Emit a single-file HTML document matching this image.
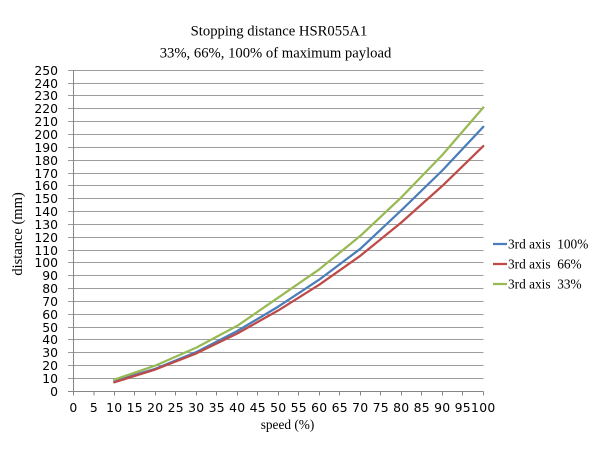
<!DOCTYPE html>
<html>
<head>
<meta charset="utf-8">
<style>
html,body{margin:0;padding:0;background:#fff;}
svg{display:block;}
.yl{font-family:"DejaVu Sans",sans-serif;font-size:12.4px;fill:#000;text-anchor:end;}
.xl{font-family:"DejaVu Sans",sans-serif;font-size:12.4px;fill:#000;text-anchor:middle;letter-spacing:0.3px;}
.serif{font-family:"Liberation Serif",serif;fill:#000;}
</style>
</head>
<body>
<svg width="600" height="449" viewBox="0 0 600 449" xmlns="http://www.w3.org/2000/svg">
<rect width="600" height="449" fill="#fff"/>
<!-- titles -->
<text class="serif" x="279" y="35.5" font-size="14.67" text-anchor="middle">Stopping distance HSR055A1</text>
<text class="serif" x="275.5" y="57.5" font-size="14.67" text-anchor="middle">33%, 66%, 100% of maximum payload</text>

<!-- gridlines -->
<g stroke="#9c9c9c" stroke-width="1" fill="none">
<path d="M68 378.5H483.5M68 365.5H483.5M68 352.5H483.5M68 339.5H483.5M68 327.5H483.5M68 314.5H483.5M68 301.5H483.5M68 288.5H483.5M68 275.5H483.5M68 262.5H483.5M68 250.5H483.5M68 237.5H483.5M68 224.5H483.5M68 211.5H483.5M68 198.5H483.5M68 185.5H483.5M68 173.5H483.5M68 160.5H483.5M68 147.5H483.5M68 134.5H483.5M68 121.5H483.5M68 108.5H483.5M68 95.5H483.5M68 83.5H483.5M68 70.5H483.5"/>
</g>
<!-- axes -->
<g stroke="#868686" stroke-width="1" fill="none">
<path d="M73.5 70V391.5M68 391.5H483.5"/>
<path d="M73.5 391.5V395.5M94 391.5V395.5M114.5 391.5V395.5M134.5 391.5V395.5M155.5 391.5V395.5M175.5 391.5V395.5M196.5 391.5V395.5M216.5 391.5V395.5M237.5 391.5V395.5M257.5 391.5V395.5M278.5 391.5V395.5M298.5 391.5V395.5M319.5 391.5V395.5M339.5 391.5V395.5M360.5 391.5V395.5M380.5 391.5V395.5M401.5 391.5V395.5M421.5 391.5V395.5M442.5 391.5V395.5M462.5 391.5V395.5M483.5 391.5V395.5"/>
</g>

<!-- y labels -->
<g class="yl">
<text x="58" y="396">0</text>
<text x="58" y="383">10</text>
<text x="58" y="370">20</text>
<text x="58" y="357">30</text>
<text x="58" y="344">40</text>
<text x="58" y="332">50</text>
<text x="58" y="319">60</text>
<text x="58" y="306">70</text>
<text x="58" y="293">80</text>
<text x="58" y="280">90</text>
<text x="58" y="267">100</text>
<text x="58" y="255">110</text>
<text x="58" y="242">120</text>
<text x="58" y="229">130</text>
<text x="58" y="216">140</text>
<text x="58" y="203">150</text>
<text x="58" y="190">160</text>
<text x="58" y="178">170</text>
<text x="58" y="165">180</text>
<text x="58" y="152">190</text>
<text x="58" y="139">200</text>
<text x="58" y="126">210</text>
<text x="58" y="113">220</text>
<text x="58" y="100">230</text>
<text x="58" y="88">240</text>
<text x="58" y="75">250</text>
</g>

<!-- x labels -->
<g class="xl">
<text x="73.5" y="412">0</text>
<text x="94" y="412">5</text>
<text x="114.3" y="412">10</text>
<text x="134.8" y="412">15</text>
<text x="155.3" y="412">20</text>
<text x="175.8" y="412">25</text>
<text x="196.3" y="412">30</text>
<text x="216.8" y="412">35</text>
<text x="237.3" y="412">40</text>
<text x="257.8" y="412">45</text>
<text x="278.3" y="412">50</text>
<text x="298.8" y="412">55</text>
<text x="319.3" y="412">60</text>
<text x="339.8" y="412">65</text>
<text x="360.3" y="412">70</text>
<text x="380.8" y="412">75</text>
<text x="401.3" y="412">80</text>
<text x="421.8" y="412">85</text>
<text x="442.3" y="412">90</text>
<text x="462.8" y="412">95</text>
<text x="483.3" y="412">100</text>
</g>

<!-- axis titles -->
<text class="serif" x="287.5" y="429" font-size="13.3" text-anchor="middle">speed (%)</text>
<text class="serif" transform="translate(22,234) rotate(-90)" font-size="14.5" text-anchor="middle">distance (mm)</text>

<!-- series -->
<g fill="none" stroke-width="2.25" stroke-linejoin="round" stroke-linecap="round">
<polyline stroke="#4a7ebb" points="114.3,381.0 155.3,368.8 196.3,352.1 237.3,331.0 278.3,306.6 319.3,279.6 360.3,248.8 401.3,210.3 442.3,170.5 483.3,126.8"/>
<polyline stroke="#be4b48" points="114.3,382.3 155.3,369.5 196.3,353.4 237.3,333.5 278.3,310.4 319.3,284.7 360.3,255.8 401.3,222.5 442.3,185.9 483.3,146.1"/>
<polyline stroke="#98b954" points="114.3,379.7 155.3,365.6 196.3,347.6 237.3,325.8 278.3,297.6 319.3,269.3 360.3,235.9 401.3,197.4 442.3,155.0 483.3,107.5"/>
</g>

<!-- legend -->
<g stroke-width="2.25">
<line x1="493" y1="244" x2="507" y2="244" stroke="#4a7ebb"/>
<line x1="493" y1="264" x2="507" y2="264" stroke="#be4b48"/>
<line x1="493" y1="284" x2="507" y2="284" stroke="#98b954"/>
</g>
<g class="serif" font-size="13.33">
<text x="508" y="248.5" xml:space="preserve">3rd axis  100%</text>
<text x="508" y="268.5" xml:space="preserve">3rd axis  66%</text>
<text x="508" y="288.5" xml:space="preserve">3rd axis  33%</text>
</g>
</svg>
</body>
</html>
